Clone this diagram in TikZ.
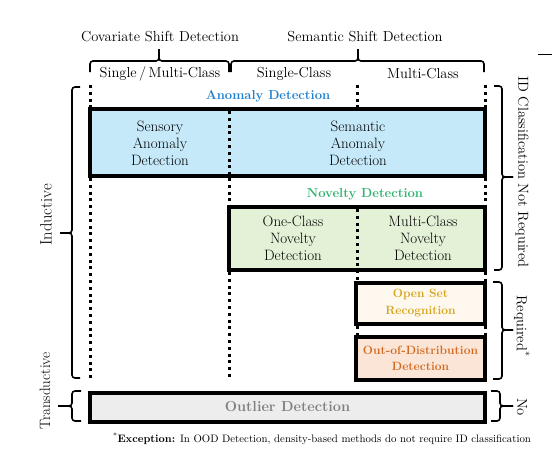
\documentclass[tikz,border=0pt]{standalone}
\usepackage{fontspec}
\definecolor{anomfill}{HTML}{C5E9F9}
\definecolor{anomtext}{HTML}{2080CC}
\definecolor{novfill}{HTML}{E3F1D7}
\definecolor{novtext}{HTML}{2DB36E}
\definecolor{osrfill}{HTML}{FFF8EE}
\definecolor{osrtext}{HTML}{D4A41C}
\definecolor{oodfill}{HTML}{FBE5D6}
\definecolor{oodtext}{HTML}{D2691E}
\definecolor{outfill}{HTML}{EDEDED}
\definecolor{outtext}{HTML}{7F7F7F}
\begin{document}
\begin{tikzpicture}[x=1pt,y=-1pt,
  dotline/.style={line width=3pt, dash pattern=on 3pt off 3.8pt},
  boxstyle/.style={draw=black, line width=3.5pt, inner sep=0pt},
  boxtext/.style={align=center, inner sep=0pt, font=\fontsize{15}{17}\selectfont},
  headtext/.style={inner sep=0pt, font=\fontsize{14.5}{16}\selectfont},
  boldlabel/.style={inner sep=0pt, font=\fontsize{13}{15}\selectfont\bfseries},
  sidetext/.style={inner sep=0pt, font=\fontsize{14.5}{16}\selectfont},
  bracket/.style={line width=1.6pt, rounded corners=3pt}]
\useasboundingbox (0,0) rectangle (552,456);

% header texts
\node[headtext] (cov) at (160,37) {Covariate Shift Detection};
\node[headtext] (sem) at (365,37) {Semantic Shift Detection};
\node[headtext] (smc) at (160,74) {Single\,/\,Multi-Class};
\node[headtext] (sc) at (294,74) {Single-Class};
\node[headtext] (mc) at (423,74) {Multi-Class};

% header brackets
\draw[bracket] (90,72) -- (90,61) -- (159,61) -- (159,49);
\draw[bracket] (159,49) -- (159,61) -- (229,61) -- (229,72);
\draw[bracket] (231,72) -- (231,61) -- (358,61) -- (358,49);
\draw[bracket] (358,49) -- (358,61) -- (484,61) -- (484,72);
\draw[line width=1pt] (538,54) -- (552,54);

% boxes
\node[boxstyle, fill=anomfill, minimum width=395pt, minimum height=67pt] (anom) at (287.5,142.5) {};
\node[boxstyle, fill=novfill, minimum width=256pt, minimum height=63pt] (nov) at (357,238.5) {};
\node[boxstyle, fill=osrfill, minimum width=129pt, minimum height=41pt] (osr) at (420.5,303.5) {};
\node[boxstyle, fill=oodfill, minimum width=129pt, minimum height=43pt] (ood) at (420.5,358.5) {};
\node[boxstyle, fill=outfill, minimum width=395pt, minimum height=29pt] (out) at (287.5,407.5) {};

% dotted column lines
\draw[dotline] (90,85) -- (90,109);
\draw[dotline] (90,178) -- (90,380);
\draw[dotline] (229,111) -- (229,176);
\draw[dotline] (229,178) -- (229,207);
\draw[dotline] (229,272) -- (229,380);
\draw[dotline] (357,85) -- (357,109);
\draw[dotline] (357,209) -- (357,283);
\draw[dotline] (357,326) -- (357,337);
\draw[dotline] (485,85) -- (485,109);
\draw[dotline] (485,178) -- (485,207);
\draw[dotline] (485,272) -- (485,283);
\draw[dotline] (485,326) -- (485,337);

% labels
\node[boldlabel, text=anomtext] (anomlab) at (268,96) {Anomaly Detection};
\node[boldlabel, text=novtext] (novlab) at (365,194) {Novelty Detection};
\node[boxtext] (sensory) at (160,143) {Sensory\\Anomaly\\Detection};
\node[boxtext] (semantic) at (358,143) {Semantic\\Anomaly\\Detection};
\node[boxtext] (oneclass) at (293,238) {One-Class\\Novelty\\Detection};
\node[boxtext] (multiclass) at (423,238) {Multi-Class\\Novelty\\Detection};
\node[boxtext, text=osrtext, font=\fontsize{12}{17}\selectfont\bfseries] (osrlab) at (420.5,303.5) {Open Set\\Recognition};
\node[boxtext, text=oodtext, font=\fontsize{12}{16}\selectfont\bfseries] (oodlab) at (420.5,358.5) {Out-of-Distribution\\Detection};
\node[boxtext, text=outtext, font=\fontsize{14.5}{16}\selectfont\bfseries] (outlab) at (287.5,407) {Outlier Detection};

% left brackets
\draw[bracket] (80,87) -- (72,87) -- (72,233) -- (60,233);
\draw[bracket] (60,233) -- (72,233) -- (72,378) -- (80,378);
\draw[bracket] (81,391) -- (72,391) -- (72,406) -- (58,406);
\draw[bracket] (58,406) -- (72,406) -- (72,421) -- (81,421);
\node[sidetext, rotate=90, font=\fontsize{16.5}{18}\selectfont] (ind) at (46,215) {Inductive};
\node[sidetext, rotate=90, font=\fontsize{15}{18}\selectfont] (trans) at (45,391) {Transductive};

% right brackets
\draw[bracket] (494,86) -- (502,86) -- (502,177) -- (513,177);
\draw[bracket] (513,177) -- (502,177) -- (502,270) -- (494,270);
\draw[bracket] (493,282) -- (502,282) -- (502,330) -- (513,330);
\draw[bracket] (513,330) -- (502,330) -- (502,379) -- (493,379);
\draw[bracket] (491,391) -- (500,391) -- (500,406) -- (513,406);
\draw[bracket] (513,406) -- (500,406) -- (500,421) -- (491,421);
\node[sidetext, rotate=-90] (idnr) at (522,172) {ID Classification Not Required};
\node[sidetext, rotate=-90] (req) at (522,326) {Required\textsuperscript{*}};
\node[sidetext, rotate=-90] (no) at (522,407) {No};

% footnote
\node[inner sep=0pt, font=\fontsize{10.8}{12}\selectfont] (foot) at (322,439) {\textsuperscript{*}\textbf{Exception:} In OOD Detection, density-based methods do not require ID classification};
\end{tikzpicture}
\end{document}
